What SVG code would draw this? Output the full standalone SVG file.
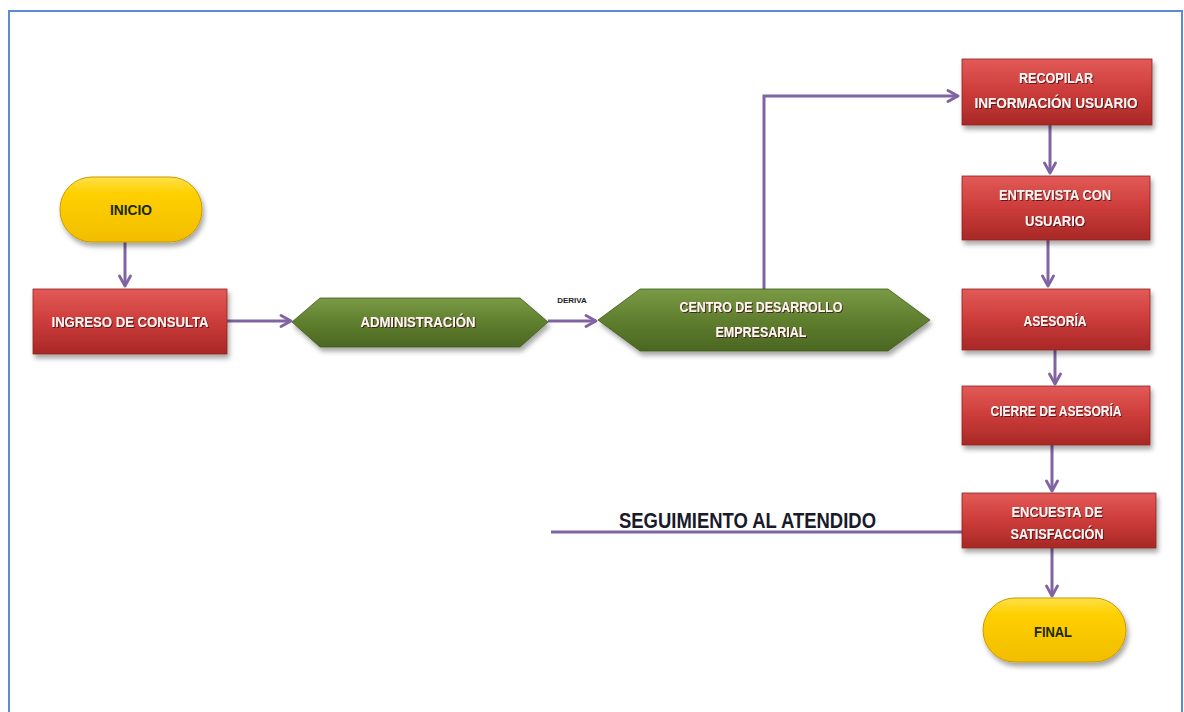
<svg xmlns="http://www.w3.org/2000/svg" width="1184" height="712" viewBox="0 0 1184 712">
  <defs>
    <linearGradient id="gRed" x1="0" y1="0" x2="0" y2="1">
      <stop offset="0" stop-color="#e25a57"/>
      <stop offset="0.5" stop-color="#cc3c3a"/>
      <stop offset="1" stop-color="#a82826"/>
    </linearGradient>
    <linearGradient id="gYellow" x1="0" y1="0" x2="0" y2="1">
      <stop offset="0" stop-color="#ffe04a"/>
      <stop offset="0.25" stop-color="#ffd000"/>
      <stop offset="1" stop-color="#f2bd00"/>
    </linearGradient>
    <linearGradient id="gGreen" x1="0" y1="0" x2="0" y2="1">
      <stop offset="0" stop-color="#7a9a46"/>
      <stop offset="0.5" stop-color="#5f7f2e"/>
      <stop offset="1" stop-color="#4b6622"/>
    </linearGradient>
    <filter id="shadow" x="-20%" y="-20%" width="140%" height="150%">
      <feDropShadow dx="2" dy="4" stdDeviation="2.5" flood-color="#000" flood-opacity="0.35"/>
    </filter>
    <filter id="txtShadow" x="-10%" y="-30%" width="120%" height="160%">
      <feDropShadow dx="1" dy="1" stdDeviation="0.6" flood-color="#3a1020" flood-opacity="0.8"/>
    </filter>
    <marker id="arrow" viewBox="0 0 14 14" refX="12" refY="7" markerWidth="14" markerHeight="14" markerUnits="userSpaceOnUse" orient="auto">
      <path d="M2,1.5 L12,7 L2,12.5" fill="none" stroke="#8064a2" stroke-width="2.8" stroke-linecap="round" stroke-linejoin="round"/>
    </marker>
    <style>
      .red { fill: url(#gRed); stroke: #8e2220; stroke-width: 0.8; filter: url(#shadow); }
      .yellow { fill: url(#gYellow); stroke: #c89a00; stroke-width: 1; filter: url(#shadow); }
      .green { fill: url(#gGreen); stroke: #3f5a1a; stroke-width: 0.8; filter: url(#shadow); }
      .conn { fill: none; stroke: #8064a2; stroke-width: 3; }
      .lbl { font-family: "Liberation Sans", Arial, sans-serif; font-weight: bold; font-size: 14.5px; text-anchor: middle; }
      .light { fill: #fff4f0; filter: url(#txtShadow); }
      .dark { fill: #1a2a00; }
      .title { font-family: "Liberation Sans", Arial, sans-serif; font-weight: bold; font-size: 22px; fill: #1a1a2a; }
      .small { font-family: "Liberation Sans", Arial, sans-serif; font-weight: bold; font-size: 8px; fill: #1a1a2a; text-anchor: middle; }
    </style>
  </defs>

  <!-- page frame (open at the bottom) -->
  <rect x="0" y="0" width="1184" height="712" fill="#ffffff"/>
  <path d="M9,712 L9,11 L1182,11 L1182,712" fill="none" stroke="#5b8bd0" stroke-width="2"/>

  <!-- connectors -->
  <g id="connectors">
    <line class="conn" x1="125" y1="242" x2="125" y2="286" marker-end="url(#arrow)"/>
    <line class="conn" x1="227" y1="321" x2="291" y2="321" marker-end="url(#arrow)"/>
    <line class="conn" x1="548" y1="321" x2="596" y2="321" marker-end="url(#arrow)"/>
    <polyline class="conn" points="764,289 764,96 958,96" marker-end="url(#arrow)"/>
    <line class="conn" x1="1050" y1="125" x2="1050" y2="173" marker-end="url(#arrow)"/>
    <line class="conn" x1="1048" y1="240" x2="1048" y2="286" marker-end="url(#arrow)"/>
    <line class="conn" x1="1055" y1="350" x2="1055" y2="384" marker-end="url(#arrow)"/>
    <line class="conn" x1="1052" y1="445" x2="1052" y2="491" marker-end="url(#arrow)"/>
    <line class="conn" x1="1052" y1="548" x2="1052" y2="596" marker-end="url(#arrow)"/>
    <line class="conn" x1="551" y1="532" x2="962" y2="532"/>
    <text class="small" x="572" y="303">DERIVA</text>
    <text class="title" x="619" y="528" textLength="257" lengthAdjust="spacingAndGlyphs">SEGUIMIENTO AL ATENDIDO</text>
  </g>

  <g id="inicio">
    <rect class="yellow" x="60" y="177" width="142" height="65" rx="32" ry="32"/>
    <text class="lbl dark" x="131" y="215" textLength="42" lengthAdjust="spacingAndGlyphs">INICIO</text>
  </g>

  <g id="ingreso">
    <rect class="red" x="33" y="289" width="194" height="65"/>
    <text class="lbl light" x="130" y="327" textLength="157" lengthAdjust="spacingAndGlyphs">INGRESO DE CONSULTA</text>
  </g>

  <g id="administracion">
    <polygon class="green" points="292,322 320,298 520,298 548,322 520,347 320,347"/>
    <text class="lbl light" x="418" y="327" textLength="115" lengthAdjust="spacingAndGlyphs">ADMINISTRACIÓN</text>
  </g>

  <g id="centro">
    <polygon class="green" points="598,320 640,289 888,289 930,320 888,351 640,351"/>
    <text class="lbl light" x="761" y="312" textLength="163" lengthAdjust="spacingAndGlyphs">CENTRO DE DESARROLLO</text>
    <text class="lbl light" x="761" y="337" textLength="91" lengthAdjust="spacingAndGlyphs">EMPRESARIAL</text>
  </g>

  <g id="recopilar">
    <rect class="red" x="962" y="59" width="190" height="66"/>
    <text class="lbl light" x="1056" y="83" textLength="74" lengthAdjust="spacingAndGlyphs">RECOPILAR</text>
    <text class="lbl light" x="1056" y="108" textLength="163" lengthAdjust="spacingAndGlyphs">INFORMACIÓN USUARIO</text>
  </g>

  <g id="entrevista">
    <rect class="red" x="962" y="176" width="188" height="64"/>
    <text class="lbl light" x="1055" y="200" textLength="112" lengthAdjust="spacingAndGlyphs">ENTREVISTA CON</text>
    <text class="lbl light" x="1055" y="226" textLength="60" lengthAdjust="spacingAndGlyphs">USUARIO</text>
  </g>

  <g id="asesoria">
    <rect class="red" x="962" y="289" width="188" height="61"/>
    <text class="lbl light" x="1055" y="326" textLength="63" lengthAdjust="spacingAndGlyphs">ASESORÍA</text>
  </g>

  <g id="cierre">
    <rect class="red" x="962" y="386" width="188" height="59"/>
    <text class="lbl light" x="1056" y="416" textLength="131" lengthAdjust="spacingAndGlyphs">CIERRE DE ASESORÍA</text>
  </g>

  <g id="encuesta">
    <rect class="red" x="962" y="493" width="194" height="55"/>
    <text class="lbl light" x="1057" y="517" textLength="91" lengthAdjust="spacingAndGlyphs">ENCUESTA DE</text>
    <text class="lbl light" x="1057" y="539" textLength="93" lengthAdjust="spacingAndGlyphs">SATISFACCIÓN</text>
  </g>

  <g id="final">
    <rect class="yellow" x="983" y="598" width="143" height="64" rx="32" ry="32"/>
    <text class="lbl dark" x="1053" y="637" textLength="38" lengthAdjust="spacingAndGlyphs">FINAL</text>
  </g>
</svg>
